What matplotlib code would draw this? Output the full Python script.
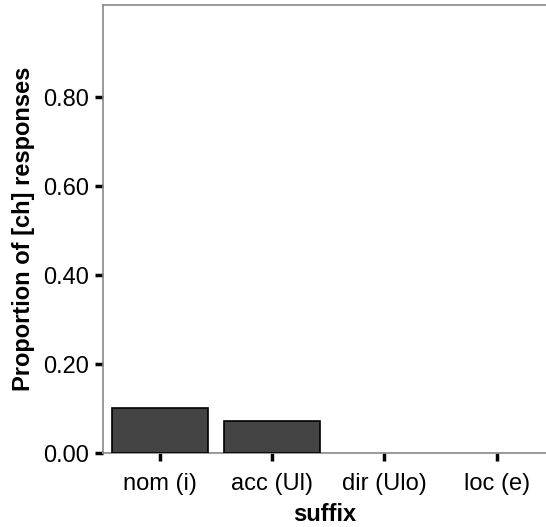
import matplotlib
matplotlib.use("Agg")
import matplotlib.pyplot as plt

plt.rcParams['font.family'] = ['Liberation Sans', 'DejaVu Sans']

categories = ["nom (i)", "acc (Ul)", "dir (Ulo)", "loc (e)"]
values = [0.101, 0.072, 0.0, 0.0]
yticks = [0.0, 0.2, 0.4, 0.6, 0.8]

fig = plt.figure(figsize=(5.46, 5.27), dpi=100)
ax = fig.add_axes([103/546, 74/527, 1 - 103/546, (453-5)/527])

x = list(range(len(categories)))
lws = [1.2 if v > 0 else 0 for v in values]
ax.bar(x, values, width=0.855, color="#444444", edgecolor="black", linewidth=lws, zorder=3)

ax.set_xlim(-0.507, 3.44)
ax.set_ylim(0, 1.007)
ax.set_xticks(x)
ax.set_xticklabels(categories)
ax.set_yticks(yticks)
ax.set_yticklabels([f"{v:.2f}" for v in yticks])

for s in ax.spines.values():
    s.set_color("#888888")
    s.set_linewidth(1.2)
ax.spines['right'].set_visible(False)

ax.tick_params(axis='both', length=6, width=2.5, color='black', labelsize=17)
ax.tick_params(axis='y', pad=4)
ax.tick_params(axis='x', pad=8.5)
ax.set_xlabel("suffix", fontsize=17, fontweight='bold', labelpad=5.5)
ax.set_ylabel("Proportion of [ch] responses", fontsize=17, fontweight='bold', labelpad=6)

fig.savefig("out.png", dpi=100)
